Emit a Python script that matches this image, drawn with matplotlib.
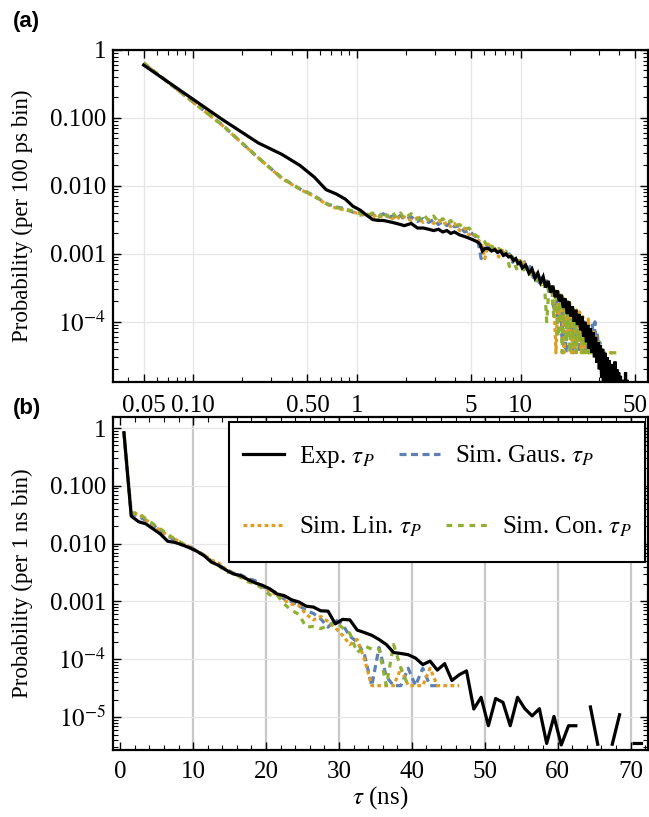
import numpy as np
import matplotlib
matplotlib.use("Agg")
import matplotlib.pyplot as plt
from matplotlib.lines import Line2D
from matplotlib.patches import Rectangle
from matplotlib.ticker import FixedLocator, FixedFormatter, LogLocator, MultipleLocator, NullFormatter

plt.rcParams['font.family'] = ['Liberation Serif', 'DejaVu Serif']
plt.rcParams['mathtext.fontset'] = 'stix'

# ---------------- Panel (a): 100 ps bins, log-log ----------------
exp_a_x = [0.05, 0.15, 0.25, 0.35, 0.45, 0.55, 0.65, 0.75, 0.85, 0.95, 1.05, 1.15, 1.25, 1.35, 1.45,
           1.55, 1.65, 1.75, 1.85, 1.95, 2.15, 2.35, 2.55, 2.75, 2.95, 3.15, 3.35, 3.55, 3.75, 3.95,
           4.25, 4.55, 4.85, 5.15, 5.45, 5.65, 5.85, 6.05, 6.35, 6.65, 6.95, 7.25, 7.55, 7.85, 8.15,
           8.45, 8.75, 9.05, 9.35, 9.65, 9.95, 10.25, 10.75, 11.25, 11.75, 12.25, 12.75, 13.25, 13.75,
           14.25, 14.75, 15.25, 15.75, 16.25, 16.75, 17.25, 17.75, 18.25, 18.75, 19.25, 19.75, 20.25,
           20.75, 21.25, 21.75, 22.25, 22.75, 23.25, 23.75, 24.25, 24.75, 25.25, 25.75, 26.25, 26.75,
           27.25, 27.75, 28.25, 28.75, 29.25, 29.75, 30.25, 30.75, 31.25, 31.75, 32.25, 32.75, 33.25,
           33.75, 34.25, 34.75, 35.25, 35.75, 36.25, 36.75, 37.25, 37.75, 38.25, 38.75, 39.25, 39.75,
           40.25, 40.75, 41.25, 41.75, 42.25, 42.75, 43.25, 43.75, 44.25, 44.75, 45.25, 45.75]
exp_a_y = [0.60, 0.096, 0.043, 0.029, 0.020, 0.0135, 0.0088, 0.0076, 0.0064, 0.0050, 0.0044, 0.0037,
           0.0032, 0.0031, 0.0031, 0.0030, 0.0029, 0.0028, 0.0027, 0.0026, 0.0028, 0.0024, 0.0024,
           0.0023, 0.0022, 0.0023, 0.0021, 0.0022, 0.0020, 0.0021, 0.0019, 0.0018, 0.0017, 0.0016,
           0.0015, 0.0014, 0.0011, 0.0012, 0.0012, 0.0011, 0.00115, 0.00105, 0.0011, 0.00095, 0.0010,
           0.0009, 0.00092, 0.0008, 0.00085, 0.00072, 0.00075, 0.00062, 0.00068, 0.00052, 0.0006,
           0.00044, 0.00052, 0.00038, 0.00046, 0.00032, 0.0004, 0.00027, 0.00034, 0.00023, 0.00029,
           0.0002, 0.00025, 0.00016, 0.00022, 0.00013, 0.0002, 0.00012, 0.00017, 0.0001, 0.00015,
           9e-5, 0.00013, 7.5e-5, 0.00012, 6e-5, 0.0001, 5e-5, 9e-5, 4e-5, 8e-5, 3.5e-5, 7e-5, 3e-5,
           6e-5, 2.5e-5, 5e-5, 2e-5, 4.5e-5, 1.5e-5, 4e-5, 3.4e-6, 3.5e-5, 1.5e-5, 3e-5, 3.4e-6,
           2.7e-5, 1e-5, 2.4e-5, 3.4e-6, 2.2e-5, 7e-6, 2.6e-5, 3.4e-6, 2e-5, 7e-6, 1.8e-5, 3.4e-6,
           1.6e-5, 3.4e-6, 1.4e-5, 7e-6, 1.3e-5, 3.4e-6, 1.8e-5, 3.4e-6, 1.4e-5, 3.4e-6, 3.4e-6]

sim_a_x = [0.05, 0.15, 0.25, 0.35, 0.45, 0.55, 0.65, 0.75, 0.85, 0.95, 1.05, 1.15, 1.25, 1.35, 1.45,
           1.55, 1.65, 1.75, 1.85, 1.95, 2.15, 2.35, 2.55, 2.75, 2.95, 3.15, 3.35, 3.55, 3.75, 3.95,
           4.25, 4.55, 4.85, 5.15, 5.45, 5.75, 6.05, 6.35, 6.65, 6.95, 7.35, 7.75, 8.15, 8.55, 8.95,
           9.45, 9.95, 10.45, 10.95, 11.45, 11.95, 12.45, 12.95, 13.45, 13.95, 14.45, 14.95, 15.45,
           15.95, 16.45, 16.95, 17.45, 17.95, 18.45, 18.95, 19.45, 19.95, 20.45, 20.95, 21.45, 21.95,
           22.45, 22.95, 23.45, 23.95, 24.45, 24.95, 25.45, 25.95, 26.45, 26.95, 27.45, 27.95, 28.45,
           28.95, 29.45, 29.95, 30.45, 31.45, 32.45, 33.45, 34.45, 35.45, 36.45, 37.45, 38.45]
gaus_a_y = [0.64, 0.080, 0.026, 0.0130, 0.0090, 0.0072, 0.0055, 0.0049, 0.0046, 0.0041, 0.0040,
            0.0036, 0.0038, 0.0035, 0.0039, 0.0034, 0.0036, 0.0033, 0.0037, 0.0032, 0.0035, 0.0030,
            0.0033, 0.0029, 0.0032, 0.0027, 0.0030, 0.0026, 0.0029, 0.0025, 0.0026, 0.0021, 0.0022,
            0.0019, 0.0017, 0.00085, 0.0014, 0.0013, 0.0011, 0.0012, 0.0010, 0.0011, 0.00085, 0.0010,
            0.00075, 0.0009, 0.00068, 0.0008, 0.00055, 0.00065, 0.00045, 0.0005, 0.00038, 0.00045,
            0.00032, 0.0004, 0.00025, 0.00034, 0.00015, 0.00028, 0.0001, 0.00022, 6e-5, 0.0002,
            3.5e-5, 0.00018, 8e-5, 0.00015, 3.5e-5, 0.00013, 5e-5, 0.00012, 3.5e-5, 0.0001, 6e-5,
            0.0001, 3.5e-5, 8e-5, 3.5e-5, 7e-5, 3.5e-5, 9e-5, 3.5e-5, 0.0001, 3.5e-5, 7e-5, 3.5e-5,
            5e-5, 3.5e-5, 3.5e-5, 0, 0, 0, 0, 0, 0]
lin_a_y = [0.64, 0.079, 0.026, 0.0128, 0.0089, 0.0070, 0.0054, 0.0047, 0.0044, 0.0042, 0.0037,
           0.0039, 0.0035, 0.0038, 0.0034, 0.0037, 0.0033, 0.0036, 0.0032, 0.0035, 0.0031, 0.0034,
           0.0029, 0.0032, 0.0028, 0.0031, 0.0027, 0.0029, 0.0025, 0.0028, 0.0022, 0.0024, 0.0019,
           0.0020, 0.0016, 0.0015, 0.00085, 0.0014, 0.0012, 0.0013, 0.0009, 0.0012, 0.0009, 0.00095,
           0.0008, 0.00085, 0.0007, 0.00075, 0.0006, 0.0006, 0.0005, 0.00052, 0.00042, 0.00046,
           0.00035, 0.00038, 0.0003, 0.00033, 0.00022, 3.5e-5, 0.00028, 0.0001, 0.00024, 3.5e-5,
           0.0002, 7e-5, 0.00019, 3.5e-5, 0.00016, 3.5e-5, 0.00015, 5e-5, 0.00014, 3.5e-5, 0.00012,
           3.5e-5, 0.0001, 6e-5, 0.00011, 3.5e-5, 8e-5, 3.5e-5, 7e-5, 3.5e-5, 6e-5, 3.5e-5, 5e-5,
           3.5e-5, 3.5e-5, 3.5e-5, 3.5e-5, 3.5e-5, 3.5e-5, 3.5e-5, 3.5e-5, 3.5e-5]
con_a_y = [0.65, 0.080, 0.026, 0.0130, 0.0091, 0.0071, 0.0055, 0.0048, 0.0045, 0.0043, 0.0039,
           0.0036, 0.0040, 0.0034, 0.0042, 0.0035, 0.0041, 0.0034, 0.0040, 0.0033, 0.0039, 0.0032,
           0.0038, 0.0031, 0.0036, 0.0029, 0.0033, 0.0028, 0.0031, 0.0026, 0.0027, 0.0023, 0.0024,
           0.0020, 0.0018, 0.0017, 0.0015, 0.0012, 0.0013, 0.0011, 0.0012, 0.0010, 0.0011, 0.00065,
           0.0009, 0.0006, 0.0008, 0.00058, 0.00065, 0.0005, 0.00055, 0.0004, 0.00045, 0.00035,
           0.0004, 0.0001, 0.00035, 0.0003, 0.00012, 0.00028, 6e-5, 0.00025, 3.5e-5, 0.00022, 5e-5,
           0.0002, 3.5e-5, 0.00017, 4.5e-5, 0.00013, 3.5e-5, 0.00012, 5e-5, 0.0001, 3.5e-5, 9e-5,
           3.5e-5, 8e-5, 3.5e-5, 6e-5, 3.5e-5, 3.5e-5, 4.5e-5, 3.5e-5, 3.5e-5, 3.5e-5, 3.5e-5,
           3.5e-5, 3.5e-5, 3.5e-5, 3.5e-5, 3.5e-5, 3.5e-5, 3.5e-5, 3.5e-5, 3.5e-5]

a_xticks = [0.05, 0.10, 0.50, 1, 5, 10, 50]
a_xticklabels = ["0.05", "0.10", "0.50", "1", "5", "10", "50"]
a_yticks = [1, 0.1, 0.01, 0.001, 1e-4]
a_yticklabels = ["1", "0.100", "0.010", "0.001", r"$10^{-4}$"]

# ---------------- Panel (b): 1 ns bins, log-linear ----------------
exp_b_x = [0.5 + i for i in range(72)]
exp_b_y = [0.83, 0.030, 0.024, 0.022, 0.018, 0.0147, 0.011, 0.0105, 0.0095, 0.0085, 0.0074, 0.0062,
           0.0048, 0.0042, 0.0035, 0.0030, 0.0028, 0.0024, 0.0021, 0.0019, 0.00166, 0.00135, 0.00126,
           0.00107, 0.00098, 0.00083, 0.00080, 0.00069, 0.00068, 0.00041, 0.00049, 0.00048, 0.00032,
           0.00029, 0.00026, 0.00022, 0.00018, 0.000131, 0.000126, 0.00012, 0.000105, 8.1e-5, 9.3e-5,
           6.5e-5, 8.4e-5, 4.3e-5, 5.4e-5, 6.3e-5, 1.38e-5, 2.2e-5, 7.1e-6, 2.1e-5, 1.8e-5, 7.1e-6,
           2.2e-5, 1.4e-5, 1.05e-5, 1.4e-5, 3.5e-6, 1.03e-5, 3.3e-6, 7.1e-6, 7.1e-6, 0, 1.5e-5,
           3.4e-6, 0, 3.4e-6, 1.1e-5, 0, 3.5e-6, 3.5e-6]

sim_b_x = [0.5 + i for i in range(47)]
gaus_b_y = [0.85, 0.033, 0.030, 0.025, 0.021, 0.017, 0.0135, 0.0115, 0.0098, 0.0090, 0.0074, 0.0063,
            0.0050, 0.0043, 0.0036, 0.0031, 0.0029, 0.0025, 0.0023, 0.0018, 0.0016, 0.0014, 0.0011,
            0.0010, 0.00085, 0.0007, 0.00062, 0.0005, 0.00036, 0.00048, 0.0004, 0.00025, 0.0002,
            0.00012, 3.5e-5, 0.00016, 5e-5, 3.5e-5, 3.5e-5, 7e-5, 3.5e-5, 7e-5, 3.5e-5, 3.5e-5,
            0, 0, 0]
lin_b_y = [0.85, 0.033, 0.033, 0.026, 0.021, 0.017, 0.014, 0.012, 0.0100, 0.0088, 0.0075, 0.0064,
           0.0052, 0.0046, 0.0036, 0.0031, 0.0027, 0.0024, 0.0021, 0.0019, 0.0015, 0.0013, 0.00105,
           0.0009, 0.00085, 0.0006, 0.00048, 0.00055, 0.00045, 0.00035, 0.00026, 0.00018, 0.00022,
           0.0001, 3.5e-5, 3.5e-5, 3.5e-5, 3.5e-5, 7e-5, 3.5e-5, 3.5e-5, 3.5e-5, 7e-5, 3.5e-5,
           3.5e-5, 3.5e-5, 3.5e-5]
con_b_y = [0.85, 0.034, 0.034, 0.027, 0.022, 0.018, 0.0145, 0.012, 0.0102, 0.0085, 0.0073, 0.0063,
           0.0048, 0.0042, 0.0032, 0.0032, 0.0026, 0.0022, 0.0020, 0.0017, 0.0013, 0.0013, 0.0009,
           0.0007, 0.0006, 0.00036, 0.00037, 0.00034, 0.00038, 0.00045, 0.00035, 0.00028, 0.00013,
           0.00017, 0.00015, 0.00015, 3.5e-5, 0.00018, 7e-5, 3.5e-5, 0, 0, 0, 0, 0, 0, 0]

b_xticks = [0, 10, 20, 30, 40, 50, 60, 70]
b_yticks = [1, 0.1, 0.01, 0.001, 1e-4, 1e-5]
b_yticklabels = ["1", "0.100", "0.010", "0.001", r"$10^{-4}$", r"$10^{-5}$"]

labels = [r"Exp. $\tau_P$", r"Sim. Gaus. $\tau_P$", r"Sim. Lin. $\tau_P$", r"Sim. Con. $\tau_P$"]
colors = ["black", "#5E81B5", "#E19C24", "#8FB032"]
dashes = [None, (2.2, 1.4), (1.2, 1.0), (1.8, 1.8)]

def masked(v):
    a = np.array(v, dtype=float)
    a[a <= 0] = np.nan
    return a

W, H = 649, 817
fig = plt.figure(figsize=(W / 100, H / 100), dpi=100)
ax_a = fig.add_axes([113 / W, 1 - 382 / H, 535 / W, 332 / H])
ax_b = fig.add_axes([113 / W, 1 - 750 / H, 535 / W, 333 / H])

FS = 18
LW = 2.3

def style(ax):
    for s in ax.spines.values():
        s.set_linewidth(1.6)
    ax.tick_params(which='both', direction='in', top=True, right=True, labelsize=FS)
    ax.tick_params(which='major', length=6, width=1.0)
    ax.tick_params(which='minor', length=3.5, width=0.8)

# ---- panel a ----
ax = ax_a
ax.set_xscale('log')
ax.set_yscale('log')
sims_a = [gaus_a_y, lin_a_y, con_a_y]
for k, ys in enumerate(sims_a):
    ax.plot(sim_a_x, masked(ys), color=colors[k + 1], lw=LW, dashes=dashes[k + 1],
            dash_capstyle='butt', zorder=2 + k)
ax.plot(exp_a_x, masked(exp_a_y), color='black', lw=LW, zorder=6, solid_joinstyle='miter')
ax.set_xlim(0.0325, 60)
ax.set_ylim(1.3e-5, 1.0)
ax.xaxis.set_major_locator(FixedLocator(a_xticks))
ax.xaxis.set_major_formatter(FixedFormatter(a_xticklabels))
ax.xaxis.set_minor_locator(LogLocator(base=10, subs=np.arange(1, 10)))
ax.xaxis.set_minor_formatter(NullFormatter())
ax.yaxis.set_major_locator(FixedLocator(a_yticks))
ax.yaxis.set_major_formatter(FixedFormatter(a_yticklabels))
ax.yaxis.set_minor_locator(LogLocator(base=10, subs=np.arange(2, 10)))
ax.yaxis.set_minor_formatter(NullFormatter())
ax.grid(True, which='major', color='#e6e6e6', lw=0.9, zorder=0)
style(ax)
ax.tick_params(axis='x', pad=9)
ax.tick_params(axis='y', pad=5)
ax.set_ylabel("Probability (per 100 ps bin)", fontsize=16.5)
ax.yaxis.set_label_coords(-0.15, 0.5)

# ---- panel b ----
ax = ax_b
ax.set_yscale('log')
sims_b = [gaus_b_y, lin_b_y, con_b_y]
for k, ys in enumerate(sims_b):
    ax.plot(sim_b_x, masked(ys), color=colors[k + 1], lw=LW, dashes=dashes[k + 1],
            dash_capstyle='butt', zorder=2 + k)
ax.plot(exp_b_x, masked(exp_b_y), color='black', lw=LW, zorder=6)
ax.set_xlim(-1, 72.4)
ax.set_ylim(2.7e-6, 1.55)
ax.xaxis.set_major_locator(FixedLocator(b_xticks))
ax.xaxis.set_minor_locator(MultipleLocator(2))
ax.yaxis.set_major_locator(FixedLocator(b_yticks))
ax.yaxis.set_major_formatter(FixedFormatter(b_yticklabels))
ax.yaxis.set_minor_locator(LogLocator(base=10, subs=np.arange(2, 10)))
ax.yaxis.set_minor_formatter(NullFormatter())
for t in b_xticks[1:]:
    ax.axvline(t, color='#c8c8c8', lw=1.6, zorder=0)
ax.grid(True, which='major', axis='y', color='#e6e6e6', lw=0.9, zorder=0)
style(ax)
ax.tick_params(axis='x', pad=8)
ax.tick_params(axis='y', pad=5)
ax.set_ylabel("Probability (per 1 ns bin)", fontsize=16.5)
ax.yaxis.set_label_coords(-0.15, 0.5)
ax.set_xlabel(r"$\tau$ (ns)", fontsize=FS, labelpad=1)

# legend: frame + two rows
x0, y0 = (229 - 113) / 535, (750 - 562) / 333
ax.add_patch(Rectangle((x0, y0), (645 - 229) / 535, (562 - 422) / 333, transform=ax.transAxes,
                       facecolor='white', edgecolor='black', lw=1.5, zorder=8))
hs = [Line2D([], [], color=colors[i], lw=LW, dashes=dashes[i]) if dashes[i] else
      Line2D([], [], color=colors[i], lw=LW) for i in range(4)]
common = dict(ncol=2, frameon=False, fontsize=FS, loc='center left', handlelength=1.65,
              handletextpad=0.6, columnspacing=0.95, borderpad=0, borderaxespad=0)
leg1 = ax.legend(hs[:2], labels[:2], bbox_to_anchor=((243 - 113) / 535, (750 - 457) / 333), **common)
leg1.set_zorder(9)
ax.add_artist(leg1)
leg2 = ax.legend(hs[2:], labels[2:], bbox_to_anchor=((243 - 113) / 535, (750 - 527) / 333), **common)
leg2.set_zorder(9)

fig.text(13 / W, 1 - 22 / H, "(a)", fontsize=16, fontweight='bold', family='Liberation Sans', va='center')
fig.text(13 / W, 1 - 408 / H, "(b)", fontsize=16, fontweight='bold', family='Liberation Sans', va='center')

fig.savefig("out.png", dpi=100)
